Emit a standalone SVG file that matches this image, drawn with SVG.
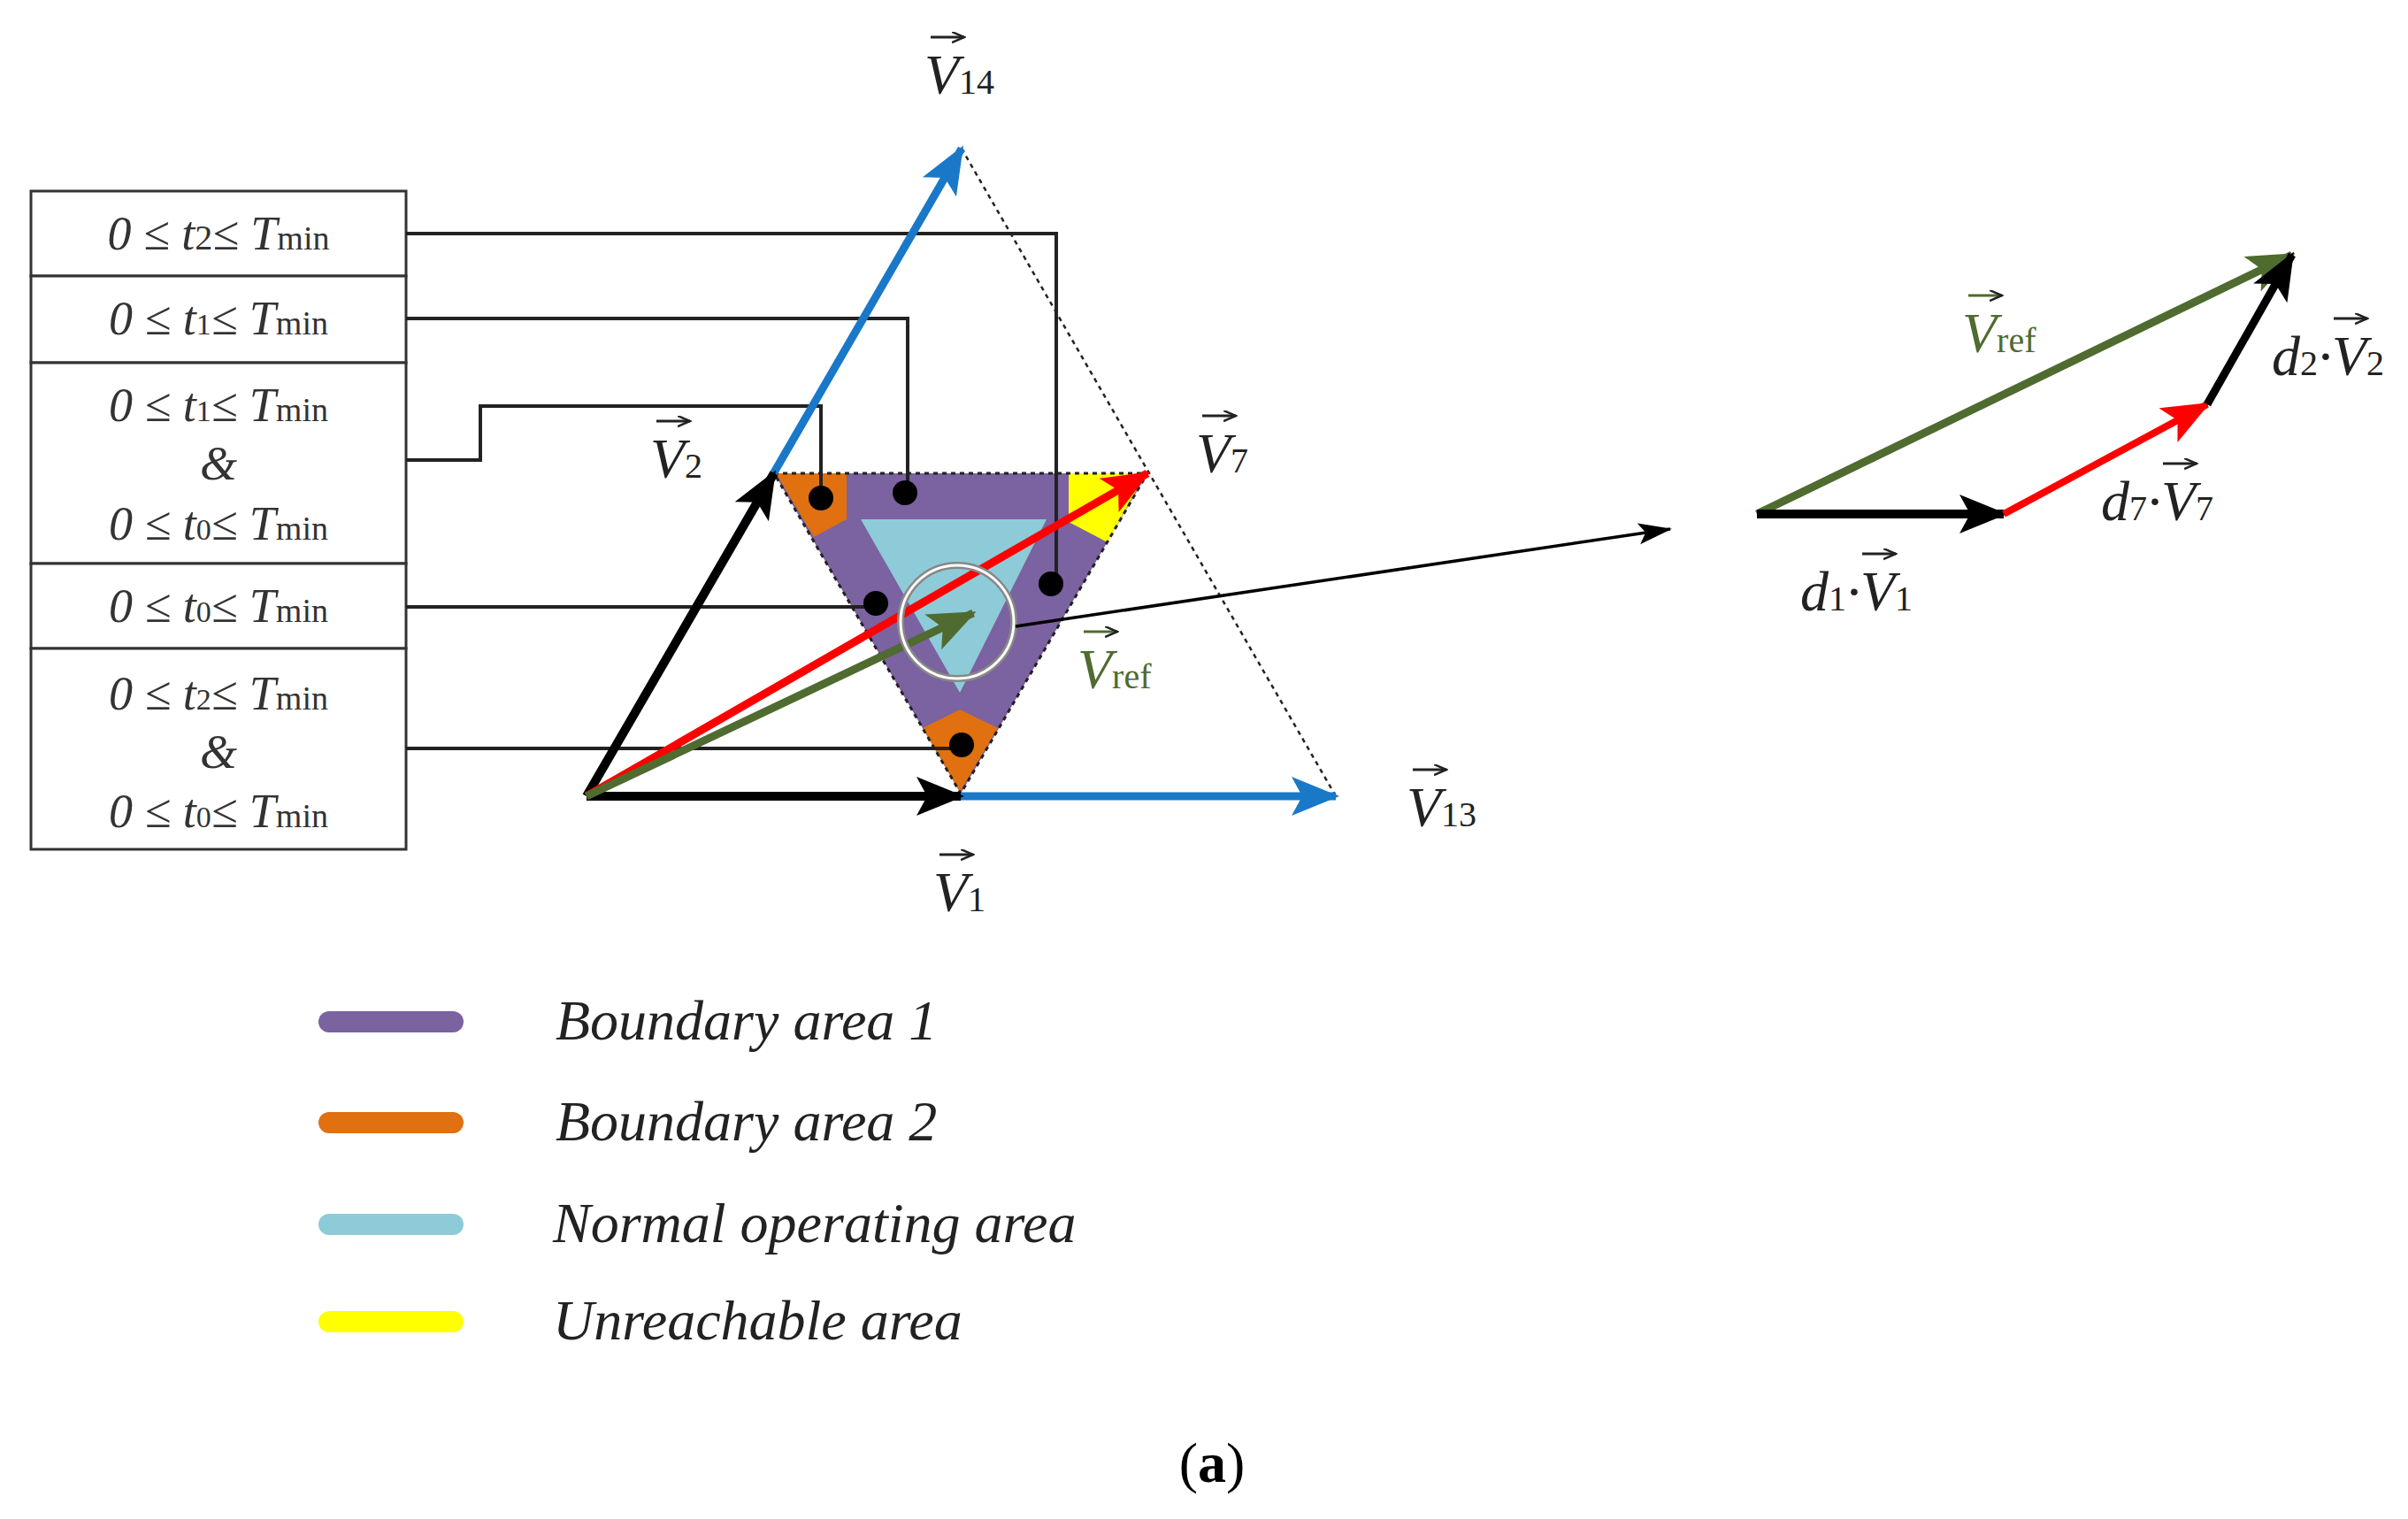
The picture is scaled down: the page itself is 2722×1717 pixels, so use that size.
<svg xmlns="http://www.w3.org/2000/svg" width="2722" height="1717" viewBox="0 0 2722 1717">
<style>
.box{fill:#fff;stroke:#333;stroke-width:3}
.bt{font-family:"Liberation Serif",serif;font-style:italic;font-size:54px;fill:#333}
.vl{font-family:"Liberation Serif",serif;font-style:italic;font-size:64px;fill:#222}
.sub{font-style:normal;font-size:40px}
.ov{stroke:#222;stroke-width:3;fill:none;marker-end:url(#sm)}
.lg{font-family:"Liberation Serif",serif;font-style:italic;font-size:64px;fill:#222}
.con{stroke:#222;stroke-width:4;fill:none}
.bar{stroke-width:24;stroke-linecap:round}
</style>
<defs>
<marker id="ak" markerUnits="userSpaceOnUse" markerWidth="60" markerHeight="50" refX="50" refY="22" orient="auto"><path d="M0,0 L54,22 L0,44 L12,22Z" fill="#000"/></marker>
<marker id="ab" markerUnits="userSpaceOnUse" markerWidth="60" markerHeight="50" refX="50" refY="22" orient="auto"><path d="M0,0 L54,22 L0,44 L12,22Z" fill="#1a78c8"/></marker>
<marker id="ar" markerUnits="userSpaceOnUse" markerWidth="60" markerHeight="50" refX="50" refY="22" orient="auto"><path d="M0,0 L54,22 L0,44 L12,22Z" fill="#ff0000"/></marker>
<marker id="ag" markerUnits="userSpaceOnUse" markerWidth="60" markerHeight="50" refX="50" refY="22" orient="auto"><path d="M0,0 L54,22 L0,44 L12,22Z" fill="#4f6b2f"/></marker>
<marker id="at" markerUnits="userSpaceOnUse" markerWidth="40" markerHeight="30" refX="36" refY="12" orient="auto"><path d="M0,0 L38,12 L0,24 L8,12Z" fill="#000"/></marker>
<marker id="sm" markerUnits="userSpaceOnUse" markerWidth="16" markerHeight="14" refX="14" refY="6" orient="auto"><path d="M0,0 L14,6 L0,12" fill="none" stroke="#222" stroke-width="2.5"/></marker>
</defs>

<g id="regions">
<polygon points="875,535 1297,535 1086,897" fill="#7b62a0"/>
<polygon points="973,587 1183,587 1085,783" fill="#8ecbd8"/>
<polygon points="877,535 957,535 957,587 920,607" fill="#e07010"/>
<polygon points="1043,823 1085,802 1128,823 1085,895" fill="#e07010"/>
<polygon points="1208,535 1295,535 1252,613 1208,590" fill="#ffff00"/>
<polygon points="875,535 1297,535 1086,897" fill="none" stroke="#222" stroke-width="3" stroke-dasharray="5,5"/>
<path d="M1087,168 L1510,900" stroke="#222" stroke-width="2.5" stroke-dasharray="5,5" fill="none"/>
</g>

<g id="boxes">
<rect class="box" x="35" y="216" width="424" height="96"/>
<text class="bt" x="247" y="282" text-anchor="middle">0 ≤ t<tspan class="sub" font-style="normal" font-size="34">2</tspan>≤ T<tspan font-size="38" font-style="normal">min</tspan></text>
<rect class="box" x="35" y="312" width="424" height="98"/>
<text class="bt" x="247" y="378" text-anchor="middle">0 ≤ t<tspan font-size="34" font-style="normal">1</tspan>≤ T<tspan font-size="38" font-style="normal">min</tspan></text>
<rect class="box" x="35" y="410" width="424" height="227"/>
<text class="bt" x="247" y="476" text-anchor="middle">0 ≤ t<tspan font-size="34" font-style="normal">1</tspan>≤ T<tspan font-size="38" font-style="normal">min</tspan></text>
<text class="bt" x="247" y="542" text-anchor="middle">&amp;</text>
<text class="bt" x="247" y="610" text-anchor="middle">0 ≤ t<tspan font-size="34" font-style="normal">0</tspan>≤ T<tspan font-size="38" font-style="normal">min</tspan></text>
<rect class="box" x="35" y="637" width="424" height="96"/>
<text class="bt" x="247" y="703" text-anchor="middle">0 ≤ t<tspan font-size="34" font-style="normal">0</tspan>≤ T<tspan font-size="38" font-style="normal">min</tspan></text>
<rect class="box" x="35" y="733" width="424" height="227"/>
<text class="bt" x="247" y="802" text-anchor="middle">0 ≤ t<tspan font-size="34" font-style="normal">2</tspan>≤ T<tspan font-size="38" font-style="normal">min</tspan></text>
<text class="bt" x="247" y="868" text-anchor="middle">&amp;</text>
<text class="bt" x="247" y="935" text-anchor="middle">0 ≤ t<tspan font-size="34" font-style="normal">0</tspan>≤ T<tspan font-size="38" font-style="normal">min</tspan></text>
</g>

<g id="connectors">
<path class="con" d="M459,264 H1194 V660"/>
<path class="con" d="M459,360 H1026 V557"/>
<path class="con" d="M459,520 H543 V459 H928 V563"/>
<path class="con" d="M459,686 H990"/>
<path class="con" d="M459,846 H1087"/>
<path d="M663,900 L1510,900" stroke="#1a78c8" stroke-width="9" marker-end="url(#ab)"/>
<path d="M663,900 L1087,168" stroke="#1a78c8" stroke-width="9" marker-end="url(#ab)"/>
<path d="M663,900 L1086,900" stroke="#000" stroke-width="10" marker-end="url(#ak)"/>
<path d="M663,900 L875,535" stroke="#000" stroke-width="10" marker-end="url(#ak)"/>
<path d="M663,900 L1297,535" stroke="#ff0000" stroke-width="9" marker-end="url(#ar)"/>
<path d="M663,900 L1100,693" stroke="#4f6b2f" stroke-width="9" marker-end="url(#ag)"/>
<circle cx="1082" cy="703" r="64" fill="none" stroke="#888" stroke-width="8"/>
<circle cx="1082" cy="703" r="64" fill="none" stroke="#fff" stroke-width="3"/>
<path d="M1148,708 L1888,598" stroke="#000" stroke-width="3.5" marker-end="url(#at)"/>
<circle cx="928" cy="563" r="14"/>
<circle cx="1023" cy="557" r="14"/>
<circle cx="1188" cy="660" r="14"/>
<circle cx="990" cy="682" r="14"/>
<circle cx="1087" cy="842" r="14"/>
<path d="M1986,581 L2591,288" stroke="#4f6b2f" stroke-width="9" marker-end="url(#ag)"/>
<path d="M1986,581 L2265,581" stroke="#000" stroke-width="10" marker-end="url(#ak)"/>
<path d="M2265,581 L2495,457" stroke="#ff0000" stroke-width="8" marker-end="url(#ar)"/>
<path d="M2495,457 L2591,288" stroke="#000" stroke-width="9" marker-end="url(#ak)"/>
</g>

<g id="labels">
<text class="vl" x="1045" y="106">V<tspan class="sub">14</tspan></text><path class="ov" d="M1052,42 H1090"/>
<text class="vl" x="735" y="540">V<tspan class="sub">2</tspan></text><path class="ov" d="M742,476 H780"/>
<text class="vl" x="1352" y="534">V<tspan class="sub">7</tspan></text><path class="ov" d="M1359,470 H1397"/>
<text class="vl" x="1590" y="934">V<tspan class="sub">13</tspan></text><path class="ov" d="M1597,870 H1635"/>
<text class="vl" x="1055" y="1030">V<tspan class="sub">1</tspan></text><path class="ov" d="M1062,966 H1100"/>
<g fill="#4f6b2f"><text class="vl" x="1218" y="778" style="fill:#4f6b2f">V<tspan class="sub">ref</tspan></text></g><path class="ov" d="M1225,714 H1263" style="stroke:#4f6b2f"/>
<text class="vl" x="2218" y="398" style="fill:#4f6b2f">V<tspan class="sub">ref</tspan></text><path class="ov" d="M2225,334 H2263" style="stroke:#4f6b2f"/>
<text class="vl" x="2568" y="424">d<tspan class="sub">2</tspan>·V<tspan class="sub">2</tspan></text><path class="ov" d="M2638,360 H2676"/>
<text class="vl" x="2375" y="588">d<tspan class="sub">7</tspan>·V<tspan class="sub">7</tspan></text><path class="ov" d="M2445,524 H2483"/>
<text class="vl" x="2035" y="690">d<tspan class="sub">1</tspan>·V<tspan class="sub">1</tspan></text><path class="ov" d="M2105,626 H2143"/>
</g>

<g id="legend">
<line class="bar" x1="372" y1="1155" x2="512" y2="1155" stroke="#7b62a0"/>
<line class="bar" x1="372" y1="1269" x2="512" y2="1269" stroke="#e07010"/>
<line class="bar" x1="372" y1="1384" x2="512" y2="1384" stroke="#8ecbd8"/>
<line class="bar" x1="372" y1="1494" x2="512" y2="1494" stroke="#ffff00"/>
<text class="lg" x="628" y="1175">Boundary area 1</text>
<text class="lg" x="628" y="1289">Boundary area 2</text>
<text class="lg" x="625" y="1404">Normal operating area</text>
<text class="lg" x="625" y="1514">Unreachable area</text>
<text x="1370" y="1675" text-anchor="middle" font-family="Liberation Serif,serif" font-size="64" fill="#000">(<tspan font-weight="bold">a</tspan>)</text>
</g>
</svg>
